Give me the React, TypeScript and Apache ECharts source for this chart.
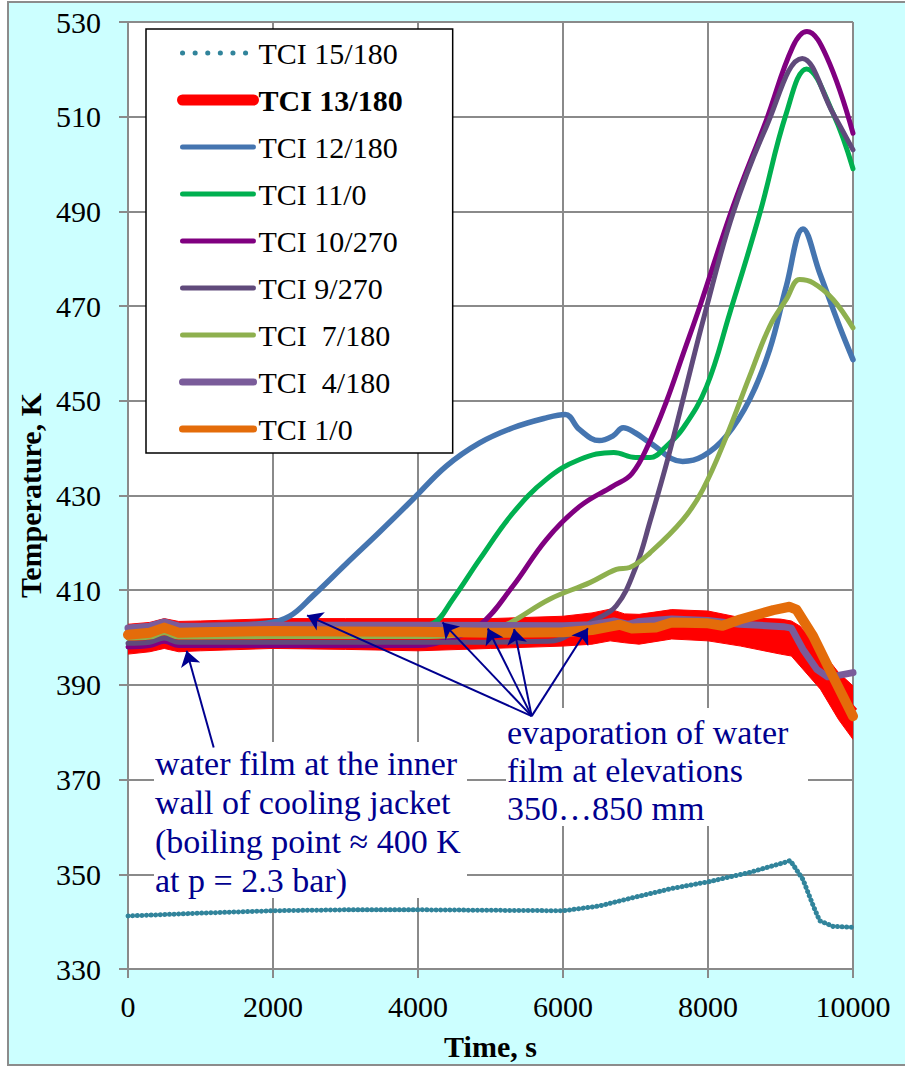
import React, { useEffect, useRef } from "react";
import * as echarts from "echarts";

// ---------- data (time in s, temperature in K) ----------
const t15 = [0, 1000, 2000, 3000, 4000, 5000, 6000, 6500, 7000, 7500, 8000, 8575, 9035, 9135, 9310, 9450, 9540, 9725, 10000];
const v15 = [341.2, 341.8, 342.3, 342.5, 342.5, 342.4, 342.3, 343.3, 345.2, 347.0, 348.4, 350.4, 352.4, 352.9, 348.9, 343.4, 340.2, 339.0, 338.8];

const t13 = [0, 300, 500, 700, 1000, 2000, 3000, 4000, 5000, 6000, 6400, 6650, 6850, 7050, 7500, 8000, 8450, 9000, 9150, 9270, 9550, 9800, 10000];
const v13hi = [402.8, 403.2, 404.0, 403.4, 403.5, 404.0, 404.0, 404.0, 404.0, 404.5, 405.2, 406.0, 405.0, 404.9, 405.9, 405.6, 404.2, 403.9, 403.5, 402.4, 397.5, 392.6, 389.8];
const v13lo = [396.5, 397.0, 397.7, 397.0, 397.2, 397.7, 397.5, 397.2, 397.7, 398.2, 398.6, 399.3, 398.9, 398.6, 399.7, 399.3, 398.2, 396.5, 396.1, 394.0, 389.1, 382.7, 378.5];

const t12 = [0, 300, 500, 700, 1000, 1900, 2230, 2550, 3010, 3470, 3930, 4390, 4850, 5310, 5770, 6030, 6230, 6500, 6690, 6830, 7000, 7200, 7650, 7930, 8250, 8575, 8850, 9080, 9310, 9540, 9815, 10000];
const v12 = [402.0, 402.4, 403.2, 402.4, 402.5, 403.0, 404.5, 408.8, 415.6, 422.3, 429.2, 436.2, 441.1, 444.3, 446.4, 447.1, 443.9, 441.6, 442.6, 444.3, 443.2, 441.1, 437.2, 438.3, 442.5, 450.3, 460.8, 474.2, 486.3, 477.0, 465.7, 458.7];

const t11 = [0, 300, 500, 700, 1000, 4000, 4210, 4480, 4850, 5310, 5770, 6230, 6700, 7000, 7200, 7425, 7655, 7980, 8300, 8715, 9080, 9360, 9725, 10000];
const v11 = [402.0, 402.4, 403.2, 402.4, 402.5, 402.5, 403.0, 408.1, 416.5, 426.3, 433.4, 437.6, 439.1, 438.0, 438.0, 440.4, 444.2, 453.0, 468.5, 489.6, 510.7, 520.1, 510.7, 499.0];

const t10 = [0, 300, 500, 700, 1000, 2000, 4000, 4400, 4850, 5310, 5770, 6230, 6690, 6950, 7200, 7425, 7655, 7900, 8345, 8805, 9170, 9365, 9635, 10000];
const v10 = [398.0, 398.3, 399.2, 398.3, 398.3, 398.3, 398.3, 399.5, 402.6, 410.9, 420.7, 427.7, 432.0, 434.6, 441.5, 449.8, 459.8, 470.5, 491.0, 509.3, 524.8, 528.0, 522.7, 506.5];

const t9 = [0, 300, 500, 700, 1000, 2000, 4000, 5800, 6200, 6415, 6735, 7010, 7200, 7450, 7700, 7950, 8345, 8805, 9300, 9725, 10000];
const v9 = [398.8, 399.0, 399.9, 399.0, 399.0, 399.0, 399.0, 399.2, 401.5, 403.5, 406.7, 415.1, 424.5, 438.0, 453.0, 468.0, 489.6, 507.9, 522.3, 510.7, 503.0];

const t7 = [0, 300, 500, 700, 1000, 2000, 4000, 4500, 5000, 5265, 5815, 6370, 6735, 6920, 7200, 7655, 7930, 8255, 8575, 8850, 9080, 9265, 9450, 9725, 10000];
const v7 = [399.9, 400.1, 401.0, 400.1, 400.1, 400.2, 400.2, 400.5, 401.8, 403.1, 408.1, 411.6, 414.4, 414.8, 417.9, 424.9, 431.3, 442.5, 455.2, 465.7, 471.4, 475.6, 474.9, 471.4, 465.4];

const t4 = [0, 300, 500, 700, 1000, 2000, 4000, 6000, 6400, 6700, 6900, 7050, 7500, 8000, 8440, 9040, 9150, 9310, 9500, 9650, 9800, 10000];
const v4 = [402.0, 402.4, 403.3, 402.4, 402.4, 402.6, 402.6, 402.5, 402.7, 403.5, 402.8, 403.4, 403.9, 403.6, 402.8, 402.3, 402.0, 397.5, 393.3, 391.7, 392.0, 392.6];

const t1 = [0, 300, 500, 700, 1000, 2000, 3000, 4000, 5000, 6000, 6400, 6650, 6780, 6950, 7280, 7500, 8000, 8200, 8440, 8900, 9125, 9220, 9450, 9720, 10000];
const v1 = [400.6, 401.0, 402.1, 401.0, 401.1, 401.4, 401.3, 401.2, 401.0, 401.1, 401.6, 402.3, 402.7, 401.9, 402.1, 403.2, 403.0, 402.5, 403.8, 405.8, 406.5, 405.9, 400.3, 391.9, 383.4];

const names = ["TCI 15/180", "TCI 13/180", "TCI 12/180", "TCI 11/0", "TCI 10/270", "TCI 9/270", "TCI  7/180", "TCI  4/180", "TCI 1/0"];
const colors = ["#31849B", "#FF0000", "#4575B0", "#00B050", "#800080", "#604A7B", "#8EB04E", "#7A5C9A", "#E46C0A"];

// annotation arrows (data coordinates)
const arrowFrom = [[1182, 376.8], [5568, 383.4], [5568, 383.4], [5568, 383.4], [5568, 383.4], [5568, 383.4]];
const arrowTo = [[808, 397.2], [2470, 404.7], [4338, 403.2], [4963, 401.9], [5326, 401.8], [6343, 401.96]];

const noteLeft = "water film at the inner\nwall of cooling jacket\n(boiling point \u2248 400 K\nat p = 2.3 bar)";
const noteRight = "evaporation of water\nfilm at elevations\n350\u2026850 mm";

const FONT = "'Liberation Serif', 'Times New Roman', serif";
const NAVY = "#00008F";
const GRID = "#8a8a8a";

const zip = (t: number[], v: number[]) => t.map((x, i) => [x, v[i]]);

function buildOption(): any {
  const base = { type: "line", symbol: "none", showSymbol: false, emphasis: { disabled: true }, silent: true };
  const smoothLine = (name: string, idx: number, t: number[], v: number[], width: number, smooth: number) => ({
    ...base,
    name,
    data: zip(t, v),
    smooth,
    color: colors[idx],
    lineStyle: { color: colors[idx], width, cap: "round", join: "round" },
  });

  const series: any[] = [
    {
      ...base,
      name: names[0],
      data: zip(t15, v15),
      color: colors[0],
      lineStyle: { color: colors[0], width: 5, type: [0.1, 4.5], cap: "round" },
    },
    {
      // centre line of the TCI 13/180 record (covered by its fluctuation band)
      ...base,
      name: names[1],
      data: t13.map((t, i) => [t, +((v13hi[i] + v13lo[i]) / 2).toFixed(2)]),
      color: colors[1],
      lineStyle: { color: colors[1], width: 11 },
    },
    {
      type: "custom",
      name: "_band13",
      silent: true,
      clip: true,
      data: t13.map((t, i) => [t, v13lo[i], v13hi[i]]),
      encode: { x: 0, y: [1, 2] },
      renderItem: (params: any, api: any) => {
        if (params.dataIndex !== 0) return null;
        const pts: number[][] = [];
        for (let i = 0; i < t13.length; i++) pts.push(api.coord([t13[i], v13hi[i]]));
        for (let i = t13.length - 1; i >= 0; i--) pts.push(api.coord([t13[i], v13lo[i]]));
        return { type: "polygon", shape: { points: pts }, style: { fill: colors[1], stroke: colors[1], lineWidth: 1 } };
      },
    },
    smoothLine(names[2], 2, t12, v12, 5.5, 0.4),
    smoothLine(names[3], 3, t11, v11, 5, 0.4),
    smoothLine(names[4], 4, t10, v10, 5, 0.4),
    smoothLine(names[5], 5, t9, v9, 5, 0.4),
    smoothLine(names[6], 6, t7, v7, 5, 0.4),
    smoothLine(names[7], 7, t4, v4, 7, 0),
    {
      ...smoothLine(names[8], 8, t1, v1, 10, 0),
      markLine: {
        silent: true,
        symbol: ["none", "arrow"],
        symbolSize: 15,
        label: { show: false },
        emphasis: { disabled: true },
        lineStyle: { color: NAVY, width: 2, type: "solid", opacity: 1 },
        itemStyle: { color: NAVY },
        data: arrowFrom.map((f, i) => [{ coord: f }, { coord: arrowTo[i] }]),
      },
    },
  ];

  const legendWidths = [5, 11, 5, 5, 5, 5, 5, 7, 7];
  const legendData = names.map((n, i) => ({
    name: n,
    itemStyle: { color: "transparent", opacity: 0, borderWidth: 0 },
    lineStyle: {
      color: colors[i],
      width: legendWidths[i],
      type: i === 0 ? [0.1, 12.5] : "solid",
      cap: "round",
      opacity: 1,
    },
    textStyle: i === 1 ? { fontWeight: "bold" } : {},
  }));

  return {
    animation: false,
    backgroundColor: "transparent",
    grid: { left: 128, right: 52, top: 22, bottom: 96, show: true, backgroundColor: "#ffffff", borderWidth: 0 },
    xAxis: {
      type: "value",
      min: 0,
      max: 10000,
      interval: 2000,
      name: "Time, s",
      nameLocation: "middle",
      nameGap: 62,
      nameTextStyle: { fontFamily: FONT, fontSize: 30, fontWeight: "bold", color: "#000" },
      axisLine: { show: true, lineStyle: { color: GRID, width: 2 } },
      axisTick: { show: true, length: 9, lineStyle: { color: GRID, width: 2 } },
      axisLabel: { fontFamily: FONT, fontSize: 30, color: "#000", margin: 22, formatter: (v: number) => String(v) },
      splitLine: { show: true, lineStyle: { color: GRID, width: 2 } },
    },
    yAxis: {
      type: "value",
      min: 330,
      max: 530,
      interval: 20,
      name: "Temperature, K",
      nameLocation: "middle",
      nameGap: 82,
      nameTextStyle: { fontFamily: FONT, fontSize: 30, fontWeight: "bold", color: "#000" },
      axisLine: { show: true, lineStyle: { color: GRID, width: 2 } },
      axisTick: { show: true, length: 9, lineStyle: { color: GRID, width: 2 } },
      axisLabel: { fontFamily: FONT, fontSize: 30, color: "#000", margin: 27, formatter: (v: number) => String(v) },
      splitLine: { show: true, lineStyle: { color: GRID, width: 2 } },
    },
    legend: {
      show: true,
      orient: "vertical",
      left: 146,
      top: 29,
      padding: [9, 50, 9, 31],
      itemGap: 17,
      itemWidth: 71,
      itemHeight: 14,
      selectedMode: false,
      backgroundColor: "#ffffff",
      borderColor: "#000000",
      borderWidth: 1.5,
      textStyle: { fontFamily: FONT, fontSize: 30, color: "#000", lineHeight: 30 },
      data: legendData,
    },
    graphic: [
      { type: "rect", silent: true, z: 1, shape: { x: 154, y: 742, width: 313, height: 156 }, style: { fill: "#ffffff" } },
      {
        type: "text",
        silent: true,
        z: 1,
        x: 155,
        y: 743.5,
        style: { text: noteLeft, fontFamily: FONT, fontSize: 34, lineHeight: 39, fill: NAVY, textVerticalAlign: "top" },
      },
      { type: "rect", silent: true, z: 1, shape: { x: 506, y: 708, width: 302, height: 118 }, style: { fill: "#ffffff" } },
      {
        type: "text",
        silent: true,
        z: 1,
        x: 507,
        y: 713,
        style: { text: noteRight, fontFamily: FONT, fontSize: 34, lineHeight: 38, fill: NAVY, textVerticalAlign: "top" },
      },
    ],
    series,
  };
}

export default function App() {
  const ref = useRef<HTMLDivElement>(null);
  useEffect(() => {
    if (!ref.current) return;
    const chart = echarts.init(ref.current, null, { renderer: "svg" });
    chart.setOption(buildOption());
    return () => chart.dispose();
  }, []);
  return (
    <div style={{ position: "absolute", left: 0, top: 0, width: 905, height: 1066, background: "#ffffff", overflow: "hidden" }}>
      <div
        style={{
          position: "absolute",
          left: 7,
          top: 1,
          width: 898,
          height: 1065,
          boxSizing: "border-box",
          background: "#CCFFFF",
          borderLeft: "2px solid #8c8c8c",
          borderTop: "2px solid #8c8c8c",
          borderBottom: "2px solid #8c8c8c",
        }}
      />
      <div ref={ref} style={{ position: "absolute", left: 0, top: 0, width: 905, height: 1066 }} />
    </div>
  );
}
